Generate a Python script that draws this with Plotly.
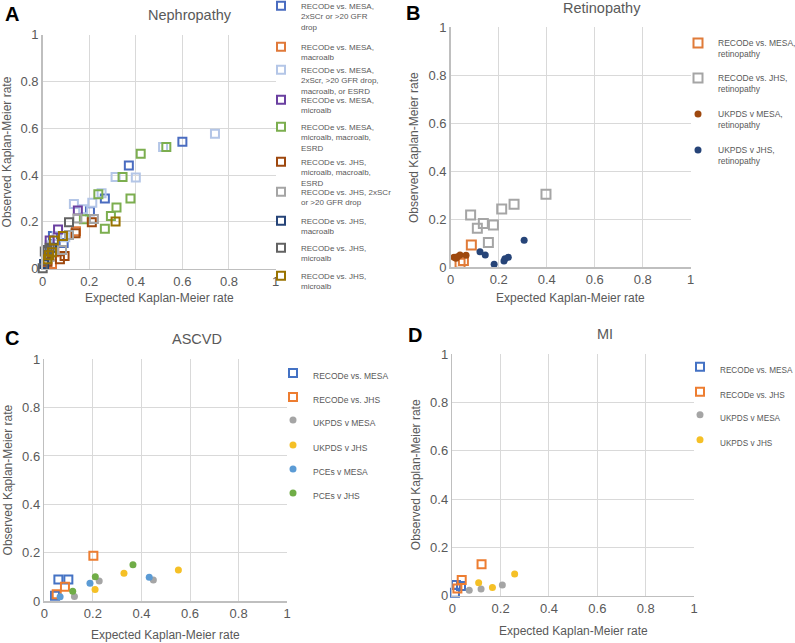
import plotly.graph_objects as go

# ---------------- Data ----------------
# Panel A: Nephropathy (open squares)
a_names = [
    "RECODe vs. MESA,<br>2xSCr or >20 GFR<br>drop",
    "RECODe vs. MESA,<br>macroalb",
    "RECODe vs. MESA,<br>2xScr, >20 GFR drop,<br>macroalb, or ESRD",
    "RECODe vs. MESA,<br>microalb",
    "RECODe vs. MESA,<br>microalb, macroalb,<br>ESRD",
    "RECODe vs. JHS,<br>microalb, macroalb,<br>ESRD",
    "RECODe vs. JHS, 2xSCr<br>or >20 GFR drop",
    "RECODe vs. JHS,<br>macroalb",
    "RECODe vs. JHS,<br>microalb",
    "RECODe vs. JHS,<br>microalb",
]
a_colors = ["#4a6cc0", "#e0793a", "#b4c6e7", "#6a3fa0", "#7cae4f",
            "#9e480e", "#a5a5a5", "#264478", "#636363", "#997300"]
a_x = [
    [0.60, 0.37, 0.267, 0.203, 0.09, 0.044, 0.01],
    [0.143, 0.05, 0.02, 0.04],
    [0.74, 0.517, 0.313, 0.40, 0.253, 0.134, 0.213, 0.174, 0.097, 0.06, 0.03],
    [0.151, 0.066, 0.03],
    [0.531, 0.421, 0.343, 0.377, 0.239, 0.317, 0.293, 0.177, 0.267],
    [0.211, 0.141, 0.094, 0.074, 0.02],
    [0.149, 0.22, 0.113, 0.083, 0.03],
    [0.006, 0.02, 0.04],
    [0.113, 0.009, 0.0, 0.02, 0.03],
    [0.313, 0.087, 0.048, 0.027, 0.04, 0.02],
]
a_y = [
    [0.543, 0.441, 0.30, 0.245, 0.11, 0.14, 0.02],
    [0.16, 0.07, 0.03, 0.02],
    [0.577, 0.52, 0.392, 0.39, 0.322, 0.276, 0.282, 0.254, 0.134, 0.14, 0.10],
    [0.249, 0.168, 0.12],
    [0.52, 0.491, 0.392, 0.30, 0.318, 0.262, 0.225, 0.211, 0.171],
    [0.198, 0.151, 0.054, 0.04, 0.03],
    [0.214, 0.212, 0.144, 0.08, 0.05],
    [0.02, 0.06, 0.09],
    [0.198, 0.073, 0.002, 0.08, 0.09],
    [0.202, 0.14, 0.12, 0.058, 0.07, 0.04],
]

# Panel B: Retinopathy
b_names = ["RECODe vs. MESA,<br>retinopathy", "RECODe vs. JHS,<br>retinopathy",
           "UKPDS v MESA,<br>retinopathy", "UKPDS v JHS,<br>retinopathy"]
b_colors = ["#e07b39", "#a5a5a5", "#9e480e", "#264478"]
b_symbols = ["square-open", "square-open", "circle", "circle"]
b_x = [
    [0.086, 0.039, 0.053],
    [0.083, 0.111, 0.136, 0.178, 0.157, 0.2125, 0.264, 0.397],
    [0.014, 0.028, 0.039, 0.064, 0.022],
    [0.122, 0.144, 0.181, 0.222, 0.226, 0.24, 0.306],
]
b_y = [
    [0.093, 0.017, 0.028],
    [0.218, 0.163, 0.183, 0.176, 0.103, 0.243, 0.2625, 0.304],
    [0.042, 0.044, 0.051, 0.05, 0.038],
    [0.065, 0.051, 0.0125, 0.026, 0.036, 0.042, 0.1125],
]

# Panel C: ASCVD
c_names = ["RECODe vs. MESA", "RECODe vs. JHS", "UKPDS v MESA",
           "UKPDS v JHS", "PCEs v MESA", "PCEs v JHS"]
c_colors = ["#4472c4", "#ed7d31", "#a5a5a5", "#f5c026", "#5b9bd5", "#70ad47"]
c_symbols = ["square-open", "square-open", "circle", "circle", "circle", "circle"]
c_x = [
    [0.044, 0.058, 0.099],
    [0.202, 0.085, 0.051],
    [0.124, 0.226, 0.449],
    [0.209, 0.328, 0.552],
    [0.065, 0.188, 0.432],
    [0.117, 0.21, 0.365],
]
c_y = [
    [0.022, 0.089, 0.089],
    [0.187, 0.059, 0.028],
    [0.019, 0.083, 0.087],
    [0.048, 0.115, 0.128],
    [0.018, 0.073, 0.098],
    [0.04, 0.1, 0.15],
]

# Panel D: MI
d_names = ["RECODe vs. MESA", "RECODe vs. JHS", "UKPDS v MESA", "UKPDS v JHS"]
d_colors = ["#4472c4", "#ed7d31", "#a5a5a5", "#f5c026"]
d_symbols = ["square-open", "square-open", "circle", "circle"]
d_x = [
    [0.011, 0.015, 0.036],
    [0.121, 0.039, 0.021],
    [0.07, 0.119, 0.207],
    [0.109, 0.166, 0.258],
]
d_y = [
    [0.012, 0.044, 0.04],
    [0.13, 0.065, 0.03],
    [0.023, 0.028, 0.044],
    [0.054, 0.034, 0.09],
]

# ---------------- Figure ----------------
W, H = 795, 643
TXT = "#595959"
FONT = "Liberation Sans, Arial, sans-serif"

# legend entry anchor points (symbol centre x, first text line y) in pixels
a_leg_x, a_leg_y = 281, [5, 46, 69, 99, 126, 161, 191, 220, 247, 275]
b_leg_x, b_leg_y = 698, [42, 77, 113, 149]
c_leg_x, c_leg_y = 293, [372, 396, 419, 444, 468, 492]
d_leg_x, d_leg_y = 700, [366, 391, 414, 439]

SYM_DX = 20   # plotly legend: symbol centre offset from legend left
SYM_DY = 11   # plotly legend: first line centre offset from legend top


def px_x(p):
    return p / W


def px_y(p):
    return 1 - p / H


fig = go.Figure()
legends = {}
leg_counter = [0]


def add_series(names, xs, ys, colors, symbols, axis_idx, leg_x, leg_ys, fsize,
               size_sq=8, size_dot=7):
    xa = "x" if axis_idx == 1 else f"x{axis_idx}"
    ya = "y" if axis_idx == 1 else f"y{axis_idx}"
    for n, x, y, c, s, ly in zip(names, xs, ys, colors, symbols, leg_ys):
        leg_counter[0] += 1
        k = leg_counter[0]
        lid = "legend" if k == 1 else f"legend{k}"
        if s == "square-open":
            marker = dict(symbol="square-open", size=size_sq, color=c,
                          line=dict(color=c, width=2))
        else:
            marker = dict(symbol="circle", size=size_dot, color=c,
                          line=dict(width=0))
        fig.add_trace(go.Scatter(
            x=x, y=y, mode="markers", name=n, marker=marker,
            xaxis=xa, yaxis=ya, legend=lid, cliponaxis=False, showlegend=True,
        ))
        legends[lid] = dict(
            bgcolor="rgba(0,0,0,0)", borderwidth=0,
            font=dict(size=fsize, color=TXT, family=FONT),
            xanchor="left", yanchor="top", itemwidth=30, valign="top",
            x=px_x(leg_x - SYM_DX), y=px_y(ly - SYM_DY),
        )


add_series(a_names, a_x, a_y, a_colors, ["square-open"] * 10, 1, a_leg_x, a_leg_y, 8, size_sq=8)
add_series(b_names, b_x, b_y, b_colors, b_symbols, 2, b_leg_x, b_leg_y, 8.5, size_sq=9, size_dot=7)
add_series(c_names, c_x, c_y, c_colors, c_symbols, 3, c_leg_x, c_leg_y, 8.5, size_sq=8, size_dot=7)
add_series(d_names, d_x, d_y, d_colors, d_symbols, 4, d_leg_x, d_leg_y, 8.2, size_sq=8, size_dot=7)

# plot areas in pixels (left, right, top, bottom)
boxes = {
    1: (42.7, 275.5, 34.7, 268.7),
    2: (450.7, 690.7, 27.3, 267.3),
    3: (44.3, 287.2, 359.3, 601.0),
    4: (452.3, 694.0, 354.0, 595.7),
}

tickvals = [0, 0.2, 0.4, 0.6, 0.8, 1]
ticktext = ["0", "0.2", "0.4", "0.6", "0.8", "1"]

layout = dict(
    width=W, height=H,
    margin=dict(l=0, r=0, t=0, b=0, autoexpand=False),
    paper_bgcolor="white", plot_bgcolor="white",
    font=dict(family=FONT, color=TXT),
    showlegend=True,
)
layout.update(legends)

for k, (l, r, t, b) in boxes.items():
    xname = "xaxis" if k == 1 else f"xaxis{k}"
    yname = "yaxis" if k == 1 else f"yaxis{k}"
    anchor_x = "y" if k == 1 else f"y{k}"
    anchor_y = "x" if k == 1 else f"x{k}"
    common = dict(range=[0, 1], tickvals=tickvals, ticktext=ticktext,
                  showgrid=True, gridcolor="#d9d9d9", gridwidth=1,
                  zeroline=False, showline=True, linecolor="#bfbfbf", linewidth=1.5,
                  ticks="", tickfont=dict(size=13, color=TXT, family=FONT),
                  fixedrange=True, automargin=False)
    layout[xname] = dict(common, domain=[px_x(l), px_x(r)], anchor=anchor_x)
    layout[yname] = dict(common, domain=[px_y(b), px_y(t)], anchor=anchor_y)

fig.update_layout(**layout)

ann = []
# Panel letters
for letter, (x, y) in {"A": (12, 14), "B": (413, 13), "C": (12, 338), "D": (415, 335)}.items():
    ann.append(dict(text=f"<b>{letter}</b>", x=px_x(x), y=px_y(y), xref="paper", yref="paper",
                    showarrow=False, font=dict(size=20, color="black", family=FONT),
                    xanchor="center", yanchor="middle"))
# Titles
for title, (x, y) in {"Nephropathy": (190, 15), "Retinopathy": (602, 8),
                      "ASCVD": (197, 339), "MI": (605, 334)}.items():
    ann.append(dict(text=title, x=px_x(x), y=px_y(y), xref="paper", yref="paper",
                    showarrow=False, font=dict(size=14.5, color=TXT, family=FONT),
                    xanchor="center", yanchor="middle"))
# Axis titles
xt_y = {1: 298, 2: 298, 3: 635, 4: 631}
for k, (l, r, t, b) in boxes.items():
    ann.append(dict(text="Expected Kaplan-Meier rate", x=px_x((l + r) / 2), y=px_y(xt_y[k]),
                    xref="paper", yref="paper", showarrow=False,
                    font=dict(size=12, color=TXT, family=FONT),
                    xanchor="center", yanchor="middle"))
    ann.append(dict(text="Observed Kaplan-Meier rate", x=px_x(l - 36), y=px_y((t + b) / 2),
                    xref="paper", yref="paper", showarrow=False, textangle=-90,
                    font=dict(size=12, color=TXT, family=FONT),
                    xanchor="center", yanchor="middle"))
fig.update_layout(annotations=ann)

fig.write_html(
    "out.html",
    config={"displayModeBar": False, "staticPlot": True},
    post_script="document.body.style.margin='0px';document.body.style.overflow='hidden';",
)
